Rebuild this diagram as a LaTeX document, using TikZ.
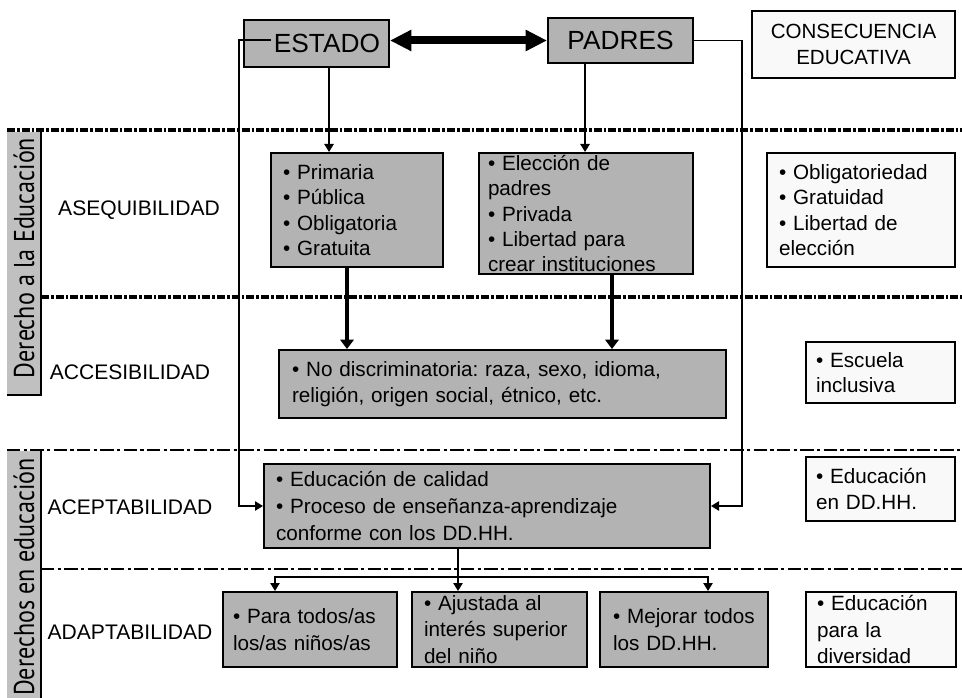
\documentclass[tikz,border=0pt]{standalone}
\usepackage{fontspec}
\setmainfont{Liberation Sans}
\newfontfamily\tabfont{PT Sans}
\usetikzlibrary{arrows.meta}
\frenchspacing

\definecolor{boxgray}{RGB}{179,179,179}
\definecolor{tabgray}{RGB}{192,192,192}
\definecolor{paper}{RGB}{249,249,249}

\newcommand{\tabtext}[1]{\scalebox{0.84}[1]{#1}}

\tikzset{
  graybox/.style={draw, line width=1.5pt, fill=boxgray, inner ysep=0pt, align=left, font=\fontsize{15.5}{19}\selectfont},
  whitebox/.style={draw, line width=1.5pt, fill=paper, inner ysep=0pt, align=left, font=\fontsize{15.5}{19}\selectfont},
  headbox/.style={draw, line width=1.5pt, fill=boxgray, inner sep=0pt, font=\fontsize{19.7}{22}\selectfont},
  rowlab/.style={inner sep=0pt, font=\fontsize{15.8}{19}\selectfont},
  tablab/.style={inner sep=0pt, rotate=90, font=\tabfont\fontsize{21.5}{22}\selectfont},
  flow/.style={line width=1.1pt, -{Triangle[length=6pt,width=7pt]}},
  bigflow/.style={line width=3pt, -{Triangle[length=7pt,width=10pt]}},
  twoway/.style={line width=6pt, {Triangle[length=16pt,width=15pt]}-{Triangle[length=16pt,width=15pt]}},
  sepA/.style={line width=2.5pt, dash pattern=on 6pt off 1.5pt on 2pt off 1.5pt},
  sepB/.style={line width=1.1pt, dash pattern=on 10pt off 2.5pt on 2.5pt off 2.5pt},
}

\begin{document}
\begin{tikzpicture}[x=0.75pt,y=0.75pt,yscale=-1,xscale=1]
    \useasboundingbox (0,0) rectangle (962,698);

    % Separators
    \draw[sepA] (7,130) -- (962,130);
    \draw[sepA] (41,297) -- (962,297);
    \draw[sepB] (7,450) -- (962,450);
    \draw[sepB] (41,569) -- (962,569);

    % Side tabs
    \fill[tabgray] (7,132) rectangle (41,395);
    \draw[line width=1.5pt] (41,132) -- (41,395) -- (7,395);
    \node[tablab] (derecho) at (24,258) {\tabtext{Derecho a la Educación}};
    \fill[tabgray] (7,451) rectangle (41,698);
    \draw[line width=1.5pt] (41,451) -- (41,698);
    \node[tablab] (derechos) at (24,577) {\tabtext{Derechos en educación}};

    % Row labels
    \node[rowlab] (aseq) at (139,210) {ASEQUIBILIDAD};
    \node[rowlab] (acces) at (130,372) {ACCESIBILIDAD};
    \node[rowlab] (acept) at (130,507) {ACEPTABILIDAD};
    \node[rowlab] (adapt) at (130,632) {ADAPTABILIDAD};

    % Top row
    \node[headbox, minimum width=108.75pt, minimum height=35.25pt, text width=95.25pt, align=right] (estado) at (316.5,43.5) {ESTADO};
    \node[headbox, minimum width=108.75pt, minimum height=33.75pt] (padres) at (620.5,40.5) {PADRES};
    \node[whitebox, align=center, minimum width=152.25pt, minimum height=50.25pt, font=\fontsize{15.4}{19.5}\selectfont] (consec) at (853.5,44.5) {CONSECUENCIA\\EDUCATIVA};

    % Asequibilidad
    \node[graybox, minimum width=129pt, minimum height=85.5pt, text width=111pt, inner xsep=9pt] (primaria) at (357,210)
      {• Primaria\\• Pública\\• Obligatoria\\• Gratuita};
    \node[graybox, minimum width=160.5pt, minimum height=90.75pt, text width=147pt, inner xsep=6.75pt] (eleccion) at (586,213.5)
      {• Elección de\\padres\\• Privada\\• Libertad para\\crear instituciones};
    \node[whitebox, minimum width=141pt, minimum height=85.5pt, text width=123pt, inner xsep=9pt] (oblig) at (861,210)
      {• Obligatoriedad\\• Gratuidad\\• Libertad de\\elección};

    % Accesibilidad
    \node[graybox, minimum width=335.25pt, minimum height=51pt, text width=315.75pt, inner xsep=9.75pt] (nodisc) at (502.5,384)
      {• No discriminatoria: raza, sexo, idioma,\\religión, origen social, étnico, etc.};
    \node[whitebox, minimum width=111.75pt, minimum height=45.75pt, text width=96.75pt, inner xsep=7.5pt] (escuela) at (880.5,372.5)
      {• Escuela\\inclusiva};

    % Aceptabilidad
    \node[graybox, minimum width=334.5pt, minimum height=63pt, text width=316.5pt, inner xsep=9pt, font=\fontsize{15.5}{20}\selectfont] (calidad) at (487,506)
      {• Educación de calidad\\• Proceso de enseñanza-aprendizaje\\conforme con los DD.HH.};
    \node[whitebox, minimum width=111.75pt, minimum height=48pt, text width=96.75pt, inner xsep=7.5pt] (ddhh) at (880.5,489)
      {• Educación\\en DD.HH.};

    % Adaptabilidad
    \node[graybox, minimum width=130.5pt, minimum height=56.25pt, text width=115.5pt, inner xsep=7.5pt, font=\fontsize{15.5}{20}\selectfont] (todos) at (310,629.5)
      {• Para todos/as\\los/as niños/as};
    \node[graybox, minimum width=131.25pt, minimum height=56.25pt, text width=113.25pt, inner xsep=9pt, font=\fontsize{15.5}{20}\selectfont] (ajustada) at (499.5,629.5)
      {• Ajustada al\\interés superior\\del niño};
    \node[graybox, minimum width=126pt, minimum height=56.25pt, text width=106.5pt, inner xsep=9.75pt, font=\fontsize{15.5}{20}\selectfont] (mejorar) at (684,629.5)
      {• Mejorar todos\\los DD.HH.};
    \node[whitebox, minimum width=112.5pt, minimum height=56.25pt, text width=96pt, inner xsep=8.25pt, font=\fontsize{15.5}{20}\selectfont] (divers) at (881,629.5)
      {• Educación\\para la\\diversidad};

    % Connectors
    \draw[twoway] (estado.east |- padres.west) -- (padres.west);
    \draw[flow] ([xshift=9.4pt]estado.south) -- ([xshift=9.4pt]estado.south |- primaria.north);
    \draw[flow] ([xshift=-26.6pt]padres.south) -- ([xshift=-26.6pt]padres.south |- eleccion.north);
    \draw[bigflow] ([xshift=-7.5pt]primaria.south) -- ([xshift=-7.5pt]primaria.south |- nodisc.north);
    \draw[bigflow] ([xshift=19.5pt]eleccion.south) -- ([xshift=19.5pt]eleccion.south |- nodisc.north);
    \draw[flow] ([xshift=21pt,yshift=-2.6pt]estado.west) -| ([xshift=-18pt]calidad.west) -- (calidad.west);
    \draw[flow] (padres.east) -| ([xshift=23.25pt]calidad.east) -- (calidad.east);

    \coordinate (split) at (458,577);
    \draw[line width=1.1pt] ([xshift=-21.75pt]calidad.south) -- (split);
    \draw[flow] (split) -| ([xshift=-26.25pt]todos.north);
    \draw[flow] (split) -- (split |- ajustada.north);
    \draw[flow] (split) -| ([xshift=18pt]mejorar.north);

\end{tikzpicture}
\end{document}
